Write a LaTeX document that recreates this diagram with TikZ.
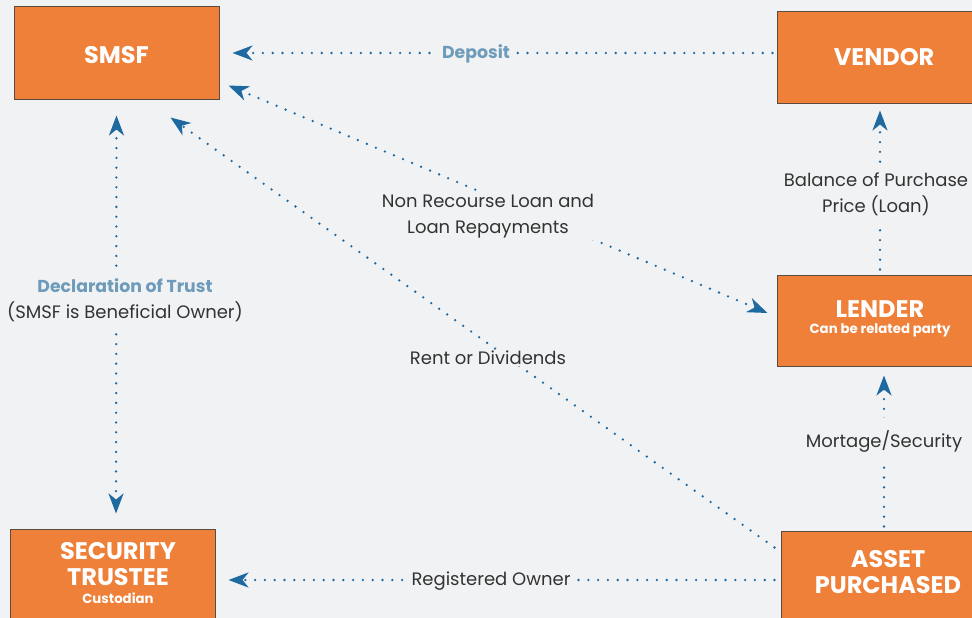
\documentclass[tikz,border=0pt]{standalone}
\usepackage{fontspec}
\setmainfont{Poppins}
\usetikzlibrary{arrows.meta}
\definecolor{bg}{HTML}{F1F2F4}
\definecolor{boxfill}{HTML}{EF8039}
\definecolor{boxline}{HTML}{5A4A40}
\definecolor{flowblue}{HTML}{1F69A1}
\definecolor{keytext}{HTML}{6E9BBA}
\definecolor{plain}{HTML}{333333}
\begin{document}
\begin{tikzpicture}[x=1pt,y=-1pt,
  box/.style={draw=boxline, line width=1pt, fill=boxfill, rectangle, inner sep=0pt},
  title/.style={text=white, font=\bfseries\fontsize{24}{26}\selectfont, align=center, inner sep=0pt},
  subtitle/.style={text=white, font=\bfseries\fontsize{13.3}{15}\selectfont, inner sep=0pt},
  flow/.style={draw=flowblue, line width=2.6pt, line cap=round, dash pattern=on 0pt off 9.8pt,
    -{Stealth[length=20pt,width=15pt,inset=6pt,fill=flowblue]}},
  both/.style={flow, {Stealth[length=20pt,width=15pt,inset=6pt,fill=flowblue]}-{Stealth[length=20pt,width=15pt,inset=6pt,fill=flowblue]}},
  caption/.style={fill=bg, text=plain, font=\fontsize{18}{26}\selectfont, align=center, inner xsep=4pt, inner ysep=2pt},
  keycap/.style={fill=bg, text=keytext, font=\bfseries\fontsize{17.3}{26}\selectfont, align=center, inner xsep=4pt, inner ysep=2pt}
]
\fill[bg] (0,0) rectangle (972,618);
\useasboundingbox (0,0) rectangle (972,618);
\clip (0,0) rectangle (972,618);

% parties
\node[box, minimum width=205, minimum height=92] (smsf) at (116.5,53) {};
\node[title] (smsf-t) at (116.5,55) {SMSF};

\node[box, minimum width=214, minimum height=91] (vendor) at (884,57.5) {};
\node[title] (vendor-t) at (884,57) {VENDOR};

\node[box, minimum width=206, minimum height=91] (lender) at (880,320.5) {};
\node[title] (lender-t) at (880,309) {LENDER};
\node[subtitle] (lender-s) at (880,330) {Can be related party};

\node[box, minimum width=205, minimum height=92] (trustee) at (112.5,575) {};
\node[title] (trustee-t) at (118,564) {SECURITY\\TRUSTEE};
\node[subtitle] (trustee-s) at (118,598) {Custodian};

\node[box, minimum width=214, minimum height=92] (asset) at (888,577) {};
\node[title] (asset-t) at (888,572) {ASSET\\PURCHASED};

% flows of money and title
\draw[flow] ([shift={(-4,-4.5)}]vendor.west) -- ([shift={(13,0)}]smsf.east);
\draw[both] ([shift={(9,-14)}]smsf.south east) -- ([shift={(-9,-7.5)}]lender.west);
\draw[flow] ([shift={(-6,17)}]asset.north west) -- ([shift={(-49,18)}]smsf.south east);
\draw[both] ([shift={(0,16)}]smsf.south) -- ([shift={(3.5,-15)}]trustee.north);
\draw[flow] ([shift={(-6,3)}]asset.west) -- ([shift={(13,5)}]trustee.east);
\draw[flow] ([shift={(-4,-4)}]asset.north) -- ([shift={(4,9)}]lender.south);
\draw[flow] ([shift={(0,-5)}]lender.north) -- ([shift={(-4,7)}]vendor.south);

% captions
\node[keycap] (l-deposit) at (476,54) {Deposit};
\node[caption, inner xsep=1pt] (l-loan) at (488,216) {Non Recourse Loan and\\Loan Repayments};
\node[caption, inner sep=1pt] (l-rent) at (488,358) {Rent or Dividends};
\node[caption, inner ysep=8pt] (l-trust) at (125,300) {\textcolor{keytext}{\bfseries\fontsize{17.3}{26}\selectfont Declaration of Trust}\\(SMSF is Beneficial Owner)};
\node[caption] (l-owner) at (491,581) {Registered Owner};
\node[caption, inner ysep=12pt] (l-security) at (884,441) {Mortage/Security};
\node[caption, inner ysep=6pt] (l-balance) at (876,194) {Balance of Purchase\\Price (Loan)};
\end{tikzpicture}
\end{document}
